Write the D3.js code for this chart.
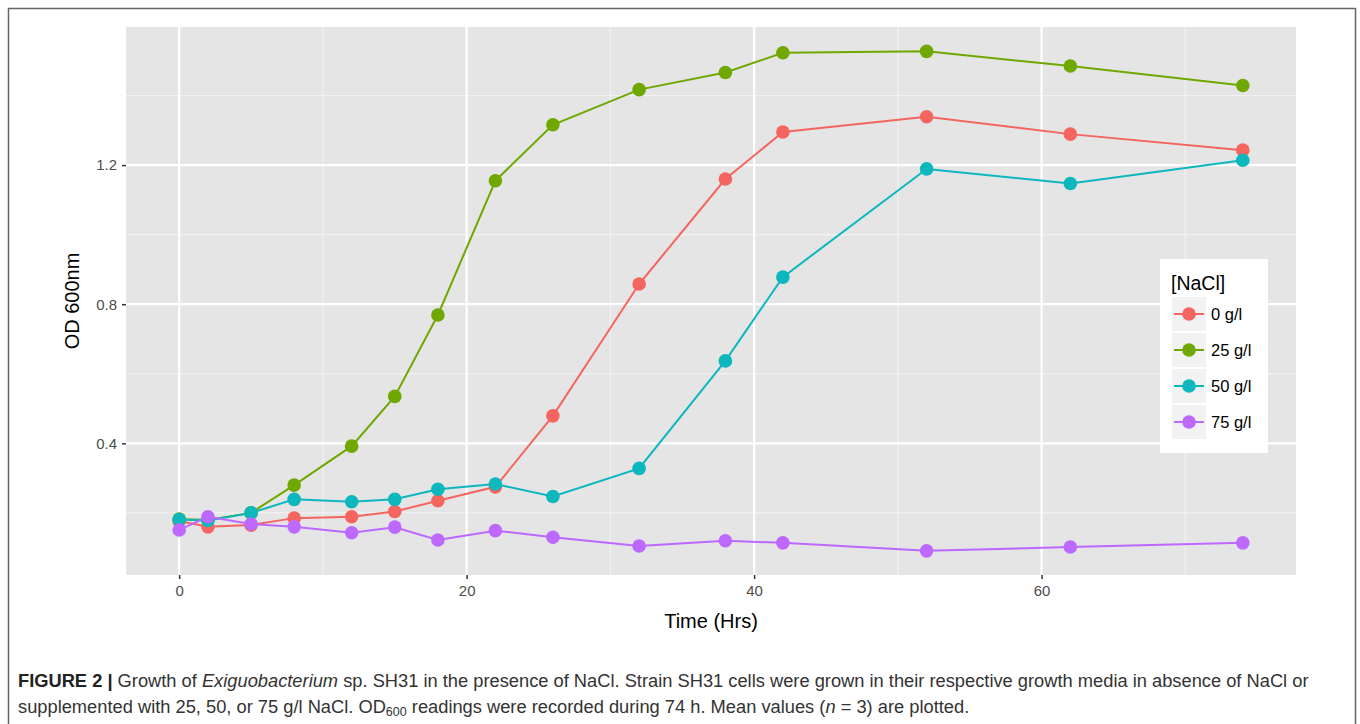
<!DOCTYPE html>
<html>
<head>
<meta charset="utf-8">
<script src="https://cdn.jsdelivr.net/npm/d3@7"></script>
<style>
  html, body { margin: 0; padding: 0; background: #fff; }
  svg { display: block; }
</style>
</head>
<body>
<svg id="chart" width="1360" height="724"></svg>
<script>
// ---- Data ----
const times = [0, 2, 5, 8, 12, 15, 18, 22, 26, 32, 38, 42, 52, 62, 74];
const seriesNames = ["0 g/l", "25 g/l", "50 g/l", "75 g/l"];
const od0  = [0.177, 0.160, 0.165, 0.185, 0.189, 0.204, 0.235, 0.275, 0.479, 0.858, 1.160, 1.295, 1.339, 1.289, 1.243];
const od25 = [0.182, 0.180, 0.200, 0.280, 0.392, 0.535, 0.769, 1.155, 1.316, 1.417, 1.466, 1.523, 1.527, 1.485, 1.429];
const od50 = [0.181, 0.178, 0.200, 0.239, 0.232, 0.239, 0.268, 0.283, 0.247, 0.328, 0.637, 0.878, 1.189, 1.147, 1.214];
const od75 = [0.151, 0.189, 0.168, 0.160, 0.143, 0.159, 0.122, 0.149, 0.130, 0.105, 0.120, 0.114, 0.091, 0.102, 0.114];
const xTicks = [0, 20, 40, 60];
const yTicks = [0.4, 0.8, 1.2];
const colors = ["#F5655F", "#6FA800", "#0CB7BD", "#BD68FF"];

const seriesValues = [od0, od25, od50, od75];
const series = seriesNames.map((name, i) => ({
  name, color: colors[i],
  points: times.map((t, j) => ({ t, v: seriesValues[i][j] }))
}));

const svg = d3.select("#chart");

// outer figure frame (open at the bottom)
svg.append("path")
  .attr("d", "M8.5,740 V8.5 H1355.5 V740")
  .attr("fill", "none").attr("stroke", "#666").attr("stroke-width", 1.5);

// ---- Panel ----
const P = { left: 126, right: 1296, top: 27, bottom: 575 };
const xMin = -3.7, xMax = 77.7;
const yMin = 0.0215, yMax = 1.597;
const x = d3.scaleLinear().domain([xMin, xMax]).range([P.left, P.right]);
const y = d3.scaleLinear().domain([yMin, yMax]).range([P.bottom, P.top]);

svg.append("rect")
  .attr("x", P.left).attr("y", P.top)
  .attr("width", P.right - P.left).attr("height", P.bottom - P.top)
  .attr("fill", "#E5E5E5");

const g = svg.append("g");
const xMinor = [10, 30, 50, 70];
const yMinor = [0.2, 0.6, 1.0, 1.4];
g.selectAll(".xminor").data(xMinor).join("line")
  .attr("x1", d => x(d)).attr("x2", d => x(d))
  .attr("y1", P.top).attr("y2", P.bottom)
  .attr("stroke", "#F2F2F2").attr("stroke-width", 1.2);
g.selectAll(".yminor").data(yMinor).join("line")
  .attr("y1", d => y(d)).attr("y2", d => y(d))
  .attr("x1", P.left).attr("x2", P.right)
  .attr("stroke", "#F2F2F2").attr("stroke-width", 1.2);
g.selectAll(".xmajor").data(xTicks).join("line")
  .attr("x1", d => x(d)).attr("x2", d => x(d))
  .attr("y1", P.top).attr("y2", P.bottom)
  .attr("stroke", "#FFFFFF").attr("stroke-width", 2.2);
g.selectAll(".ymajor").data(yTicks).join("line")
  .attr("y1", d => y(d)).attr("y2", d => y(d))
  .attr("x1", P.left).attr("x2", P.right)
  .attr("stroke", "#FFFFFF").attr("stroke-width", 2.2);

// axes
const xAxis = d3.axisBottom(x).tickValues(xTicks).tickFormat(d3.format("d")).tickSize(4).tickPadding(6);
const yAxis = d3.axisLeft(y).tickValues(yTicks).tickFormat(d3.format(".1f")).tickSize(4).tickPadding(5);
const gx = svg.append("g").attr("transform", `translate(0,${P.bottom})`).call(xAxis);
const gy = svg.append("g").attr("transform", `translate(${P.left},0)`).call(yAxis);
[gx, gy].forEach(a => {
  a.select(".domain").remove();
  a.selectAll(".tick line").attr("stroke", "#333").attr("stroke-width", 1.5);
  a.selectAll(".tick text").attr("fill", "#4D4D4D")
    .style("font-family", "'Liberation Sans', Arial, sans-serif").style("font-size", "15px");
});

// axis titles
svg.append("text")
  .attr("x", (P.left + P.right) / 2).attr("y", 628)
  .attr("text-anchor", "middle")
  .style("font-family", "'Liberation Sans', Arial, sans-serif").style("font-size", "20px")
  .attr("fill", "#000").text("Time (Hrs)");
svg.append("text")
  .attr("transform", `translate(79,${(P.top + P.bottom) / 2}) rotate(-90)`)
  .attr("text-anchor", "middle")
  .style("font-family", "'Liberation Sans', Arial, sans-serif").style("font-size", "20px")
  .attr("fill", "#000").text("OD 600nm");

// lines and points
const line = d3.line().x(d => x(d.t)).y(d => y(d.v));
const sg = svg.append("g");
series.forEach(s => {
  sg.append("path").datum(s.points)
    .attr("d", line).attr("fill", "none")
    .attr("stroke", s.color).attr("stroke-width", 2);
});
series.forEach(s => {
  sg.append("g").selectAll("circle").data(s.points).join("circle")
    .attr("cx", d => x(d.t)).attr("cy", d => y(d.v)).attr("r", 6.8)
    .attr("fill", s.color);
});

// legend
const L = { x: 1160, y: 259, w: 108, h: 194 };
const lg = svg.append("g");
lg.append("rect").attr("x", L.x).attr("y", L.y).attr("width", L.w).attr("height", L.h).attr("fill", "#fff");
lg.append("text").attr("x", 1171).attr("y", 290)
  .style("font-family", "'Liberation Sans', Arial, sans-serif").style("font-size", "19.5px")
  .attr("fill", "#000").text("[NaCl]");
series.forEach((s, i) => {
  const ky = 297 + i * 36;
  lg.append("rect").attr("x", 1172).attr("y", ky).attr("width", 34).attr("height", 34).attr("fill", "#F2F2F2");
  lg.append("line").attr("x1", 1174).attr("x2", 1204).attr("y1", ky + 17).attr("y2", ky + 17)
    .attr("stroke", s.color).attr("stroke-width", 2);
  lg.append("circle").attr("cx", 1189).attr("cy", ky + 17).attr("r", 6.8).attr("fill", s.color);
  lg.append("text").attr("x", 1211).attr("y", ky + 17).attr("dy", "0.35em")
    .style("font-family", "'Liberation Sans', Arial, sans-serif").style("font-size", "16.5px")
    .attr("fill", "#000").text(s.name);
});

// caption
const cap = svg.append("g")
  .style("font-family", "'Liberation Sans', Arial, sans-serif").style("font-size", "18.3px")
  .attr("fill", "#333");
const l1 = cap.append("text").attr("x", 18).attr("y", 687);
l1.append("tspan").attr("font-weight", "bold").attr("fill", "#222").text("FIGURE 2 | ");
l1.append("tspan").text("Growth of ");
l1.append("tspan").attr("font-style", "italic").text("Exiguobacterium");
l1.append("tspan").text(" sp. SH31 in the presence of NaCl. Strain SH31 cells were grown in their respective growth media in absence of NaCl or");
const l2 = cap.append("text").attr("x", 18).attr("y", 713);
l2.append("tspan").text("supplemented with 25, 50, or 75 g/l NaCl. OD");
l2.append("tspan").attr("font-size", "12.5px").attr("dy", 3).text("600");
l2.append("tspan").attr("dy", -3).text(" readings were recorded during 74 h. Mean values (");
l2.append("tspan").attr("font-style", "italic").text("n");
l2.append("tspan").text(" = 3) are plotted.");
</script>
</body>
</html>
